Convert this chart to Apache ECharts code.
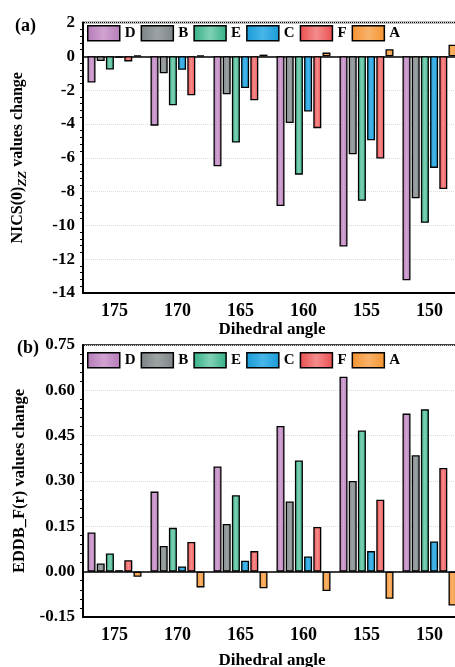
<!DOCTYPE html>
<html>
<head>
<meta charset="utf-8">
<script src="https://cdn.jsdelivr.net/npm/echarts@6/dist/echarts.min.js"></script>
<style>
  html, body { margin: 0; padding: 0; background: #fff; }
  #chart { width: 455px; height: 667px; }
</style>
</head>
<body>
<div id="chart"></div>
<script>
// categories (dihedral angle)
const angles = ['175', '170', '165', '160', '155', '150'];
const seriesNames = ['D', 'B', 'E', 'C', 'F', 'A'];

// (a) NICS(0)zz values change
const nicsD = [-1.55, -4.1, -6.5, -8.85, -11.25, -13.25];
const nicsB = [-0.28, -1.0, -2.25, -3.95, -5.8, -8.4];
const nicsE = [-0.78, -2.9, -5.1, -7.0, -8.55, -9.85];
const nicsC = [-0.08, -0.8, -1.88, -3.27, -4.97, -6.6];
const nicsF = [-0.3, -2.3, -2.6, -4.25, -6.05, -7.85];
const nicsA = [0.06, 0.06, 0.1, 0.22, 0.42, 0.68];

// (b) EDDB_F(r) values change
const eddbD = [0.13, 0.265, 0.348, 0.482, 0.645, 0.523];
const eddbB = [0.027, 0.085, 0.158, 0.232, 0.3, 0.385];
const eddbE = [0.06, 0.145, 0.253, 0.368, 0.467, 0.537];
const eddbC = [0.005, 0.017, 0.036, 0.05, 0.068, 0.1];
const eddbF = [0.038, 0.098, 0.068, 0.148, 0.238, 0.343];
const eddbA = [-0.017, -0.052, -0.055, -0.064, -0.09, -0.112];

const nicsData = [nicsD, nicsB, nicsE, nicsC, nicsF, nicsA];
const eddbData = [eddbD, eddbB, eddbE, eddbC, eddbF, eddbA];

// base colour / lighter middle for each series
const baseColors = ['#B57BB8', '#7C8386', '#33B088', '#1A9AD6', '#EA4D4F', '#F5932F'];
const lightColors = ['#D0A3D1', '#9DA3A5', '#80D1B4', '#47B6E9', '#F48C8C', '#F8B26A'];

const FONT = 'Liberation Serif';

function barFill(i) {
    return new echarts.graphic.LinearGradient(0, 0, 1, 0, [
        { offset: 0, color: baseColors[i] },
        { offset: 0.5, color: lightColors[i] },
        { offset: 1, color: baseColors[i] }
    ]);
}

function xAxisFor(gridIndex, nameGap) {
    return {
        type: 'category',
        gridIndex: gridIndex,
        data: angles,
        name: 'Dihedral angle',
        nameLocation: 'middle',
        nameGap: nameGap,
        nameTextStyle: { fontFamily: FONT, fontWeight: 'bold', fontSize: 17, color: '#000' },
        axisLine: { onZero: false, lineStyle: { color: '#000', width: 2 } },
        axisTick: { alignWithLabel: true, length: 5, lineStyle: { color: '#000', width: 1.5 } },
        axisLabel: { fontFamily: FONT, fontWeight: 'bold', fontSize: 18, color: '#000', margin: 9 },
        splitLine: { show: false }
    };
}

function yAxisFor(gridIndex, min, max, interval, name, fmt, labelSize, nameSize) {
    return {
        type: 'value',
        gridIndex: gridIndex,
        min: min,
        max: max,
        interval: interval,
        name: name,
        nameLocation: 'middle',
        nameGap: 54,
        nameTextStyle: {
            fontFamily: FONT, fontWeight: 'bold', fontSize: nameSize, color: '#000',
            rich: {
                sub: { fontFamily: FONT, fontWeight: 'bold', fontStyle: 'italic', fontSize: 13, color: '#000', padding: [9, 0, 0, 0] }
            }
        },
        axisLine: { show: true, lineStyle: { color: '#000', width: 2 } },
        axisTick: { length: 5, lineStyle: { color: '#000', width: 1.5 } },
        minorTick: { show: true, splitNumber: 5, length: 3, lineStyle: { color: '#000', width: 1 } },
        axisLabel: { fontFamily: FONT, fontWeight: 'bold', fontSize: labelSize, color: '#000', margin: 8, formatter: fmt },
        splitLine: { show: true, lineStyle: { color: '#dcdcdc', type: 'dotted', width: 1 } }
    };
}

function legendFor(top) {
    return {
        top: top,
        left: 87,
        padding: 0,
        itemWidth: 32,
        itemHeight: 15,
        itemGap: 5,
        icon: 'rect',
        data: seriesNames,
        itemStyle: { borderColor: '#000', borderWidth: 1.5 },
        textStyle: { fontFamily: FONT, fontWeight: 'bold', fontSize: 15, color: '#000', padding: [2, 0, 0, 0] }
    };
}

let series = [];
[nicsData, eddbData].forEach(function (set, g) {
    set.forEach(function (vals, i) {
        let s = {
            name: seriesNames[i],
            type: 'bar',
            xAxisIndex: g,
            yAxisIndex: g,
            barWidth: 8,
            barGap: '15%',
            data: vals,
            itemStyle: { color: barFill(i), borderColor: '#000', borderWidth: 1.3 },
            emphasis: { disabled: true },
            z: 3
        };
        if (i === 0) {
            // zero line
            s.markLine = {
                silent: true,
                symbol: 'none',
                label: { show: false },
                lineStyle: { color: '#000', type: 'solid', width: 1.5 },
                data: [{ yAxis: 0 }],
                z: 2
            };
        }
        series.push(s);
    });
});

const chart = echarts.init(document.getElementById('chart'), null, { renderer: 'canvas' });
const option = {
    animation: false,
    backgroundColor: '#fff',
    title: [
        { text: '(a)', left: 10, top: 12, textStyle: { fontFamily: FONT, fontWeight: 'bold', fontSize: 18, color: '#000' } },
        { text: '(b)', left: 12, top: 334, textStyle: { fontFamily: FONT, fontWeight: 'bold', fontSize: 18, color: '#000' } }
    ],
    legend: [legendFor(25), legendFor(352)],
    grid: [
        { left: 83, width: 378, top: 22.5, height: 270.5, outerBoundsMode: 'none', show: true, borderColor: '#000', borderWidth: 1.5, backgroundColor: 'transparent' },
        { left: 83, width: 378, top: 345, height: 272, outerBoundsMode: 'none', show: true, borderColor: '#000', borderWidth: 1.5, backgroundColor: 'transparent' }
    ],
    xAxis: [xAxisFor(0, 28), xAxisFor(1, 35)],
    yAxis: [
        yAxisFor(0, -14, 2, 2, 'NICS(0){sub|ZZ} values change', function (v) { return String(v); }, 17, 16),
        yAxisFor(1, -0.15, 0.75, 0.15, 'EDDB_F(r) values change', function (v) { return v.toFixed(2); }, 17, 16.5)
    ],
    series: series
};
chart.setOption(option);
</script>
</body>
</html>
